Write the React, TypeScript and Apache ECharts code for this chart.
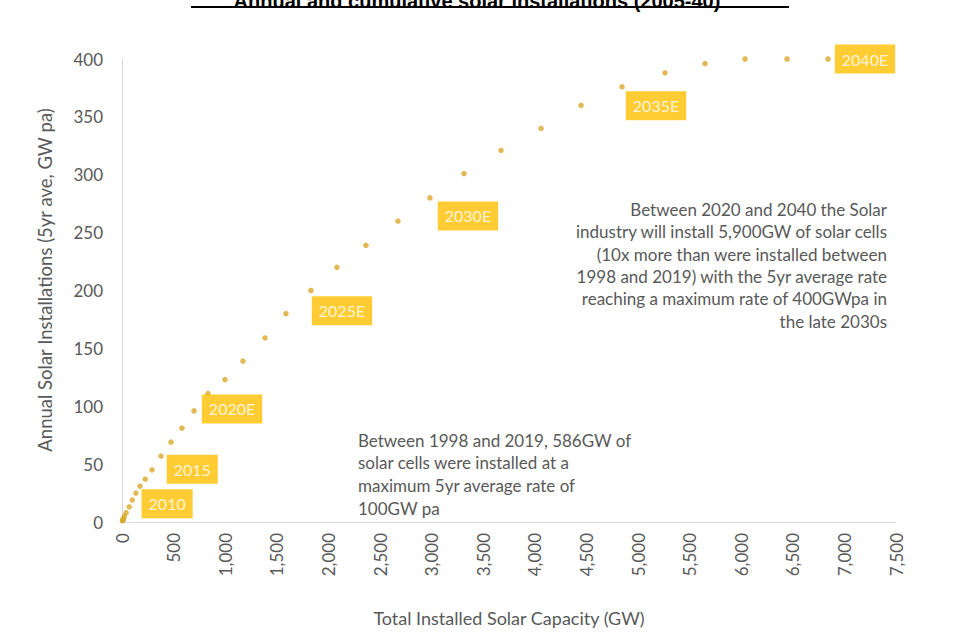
import React, { useEffect, useRef } from "react";
import * as echarts from "echarts";

// ---- data ----
const years = [
  2005, 2006, 2007, 2008, 2009, 2010, 2011, 2012, 2013, 2014, 2015, 2016,
  2017, 2018, 2019, 2020, 2021, 2022, 2023, 2024, 2025, 2026, 2027, 2028,
  2029, 2030, 2031, 2032, 2033, 2034, 2035, 2036, 2037, 2038, 2039, 2040,
];
// Total installed solar capacity (GW)
const capacityGW = [
  5, 7, 9, 15, 23, 40, 70, 100, 135, 175, 225, 291, 378, 475, 581, 698, 833,
  998, 1172, 1386, 1589, 1831, 2083, 2364, 2674, 2984, 3314, 3672, 4060, 4448,
  4845, 5262, 5649, 6037, 6444, 6841,
];
// Annual solar installations (5yr ave, GW pa)
const annualGWpa = [
  1, 1.5, 2, 3, 5, 8, 13, 19, 25, 31, 37, 45, 57, 69, 81, 96, 111, 123, 139,
  159, 180, 200, 220, 239, 260, 280, 301, 321, 340, 360, 376, 388, 396, 400,
  400, 400,
];
const calloutYears = [2010, 2015, 2020, 2025, 2030, 2035, 2040];
const calloutTexts = ["2010", "2015", "2020E", "2025E", "2030E", "2035E", "2040E"];

const titleText = "Annual and cumulative solar installations (2005-40)";
const xAxisTitle = "Total Installed Solar Capacity (GW)";
const yAxisTitle = "Annual Solar Installations (5yr ave, GW pa)";
const noteFuture = [
  "Between 2020 and 2040 the Solar",
  "industry will install 5,900GW of solar cells",
  "(10x more than were installed between",
  "1998 and 2019) with the 5yr average rate",
  "reaching a maximum rate of 400GWpa in",
  "the late 2030s",
];
const notePast = [
  "Between 1998 and 2019, 586GW of",
  "solar cells were installed at a",
  "maximum 5yr average rate of",
  "100GW pa",
];

// ---- styling ----
const GOLD = "#FFC000";
const DOT = "#D9A82A";
const GREY = "#595959";
const FONT = "Lato, 'Open Sans', sans-serif";
const calloutOffsets: Record<number, [number, number]> = {
  2010: [41, -9],
  2015: [47, -10],
  2020: [38, -2],
  2025: [56, -3],
  2030: [38, 18],
  2035: [34, 19],
  2040: [37, 0],
};

export default function App() {
  const ref = useRef<HTMLDivElement>(null);

  useEffect(() => {
    if (!ref.current) return;
    const chart = echarts.init(ref.current, undefined, { renderer: "svg" });

    const data = years.map((yr, i) => {
      const k = calloutYears.indexOf(yr);
      const item: any = { value: [capacityGW[i], annualGWpa[i]] };
      if (k >= 0) {
        item.label = {
          show: true,
          formatter: calloutTexts[k],
          position: "inside",
          offset: calloutOffsets[yr],
          align: "center",
          verticalAlign: "middle",
          color: "#FFFFFF",
          backgroundColor: GOLD,
          fontFamily: FONT,
          fontSize: 16,
          lineHeight: 17,
          padding: [6, 7],
        };
      }
      return item;
    });

    chart.setOption({
      animation: false,
      backgroundColor: "#FFFFFF",
      grid: { left: 122, width: 774, top: 59, height: 475.6, containLabel: false },
      xAxis: {
        type: "value",
        min: 0,
        max: 7500,
        interval: 500,
        name: xAxisTitle,
        nameLocation: "middle",
        nameGap: 87,
        nameTextStyle: { color: GREY, fontSize: 18, fontFamily: FONT },
        axisLine: { show: true, lineStyle: { color: "#D9D9D9", width: 1 } },
        axisTick: { show: false },
        splitLine: { show: false },
        axisLabel: {
          rotate: 90,
          margin: 11,
          color: GREY,
          fontSize: 17,
          fontFamily: FONT,
          formatter: (v: number) => v.toLocaleString("en-US"),
        },
      },
      yAxis: {
        type: "value",
        min: 0,
        max: 400,
        interval: 50,
        axisLine: { show: true, lineStyle: { color: "#D9D9D9", width: 1 } },
        axisTick: { show: false },
        splitLine: { show: false },
        axisLabel: { margin: 19, color: GREY, fontSize: 17, fontFamily: FONT },
      },
      series: [
        {
          type: "scatter",
          symbol: "circle",
          symbolSize: 5.5,
          itemStyle: { color: DOT },
          data,
          z: 3,
        },
      ],
      graphic: [
        {
          type: "text",
          left: "center",
          top: -9,
          style: {
            text: titleText,
            fill: "#000000",
            font: "bold 20px 'Liberation Sans', Arial, sans-serif",
          },
        },
        {
          type: "line",
          shape: { x1: 191, y1: 7, x2: 789, y2: 7 },
          style: { stroke: "#000000", lineWidth: 2 },
        },
        {
          type: "text",
          x: 45,
          y: 280,
          rotation: Math.PI / 2,
          style: {
            text: yAxisTitle,
            fill: GREY,
            fontFamily: FONT,
            fontSize: 18.5,
            align: "center",
            verticalAlign: "middle",
          },
        },
        {
          type: "text",
          x: 887,
          y: 198,
          style: {
            text: noteFuture.join("\n"),
            fill: GREY,
            fontFamily: FONT,
            fontSize: 17,
            lineHeight: 22.4,
            align: "right",
          },
        },
        {
          type: "text",
          x: 358,
          y: 429,
          style: {
            text: notePast.join("\n"),
            fill: GREY,
            fontFamily: FONT,
            fontSize: 17,
            lineHeight: 22.6,
            align: "left",
          },
        },
      ],
    });

    return () => chart.dispose();
  }, []);

  return (
    <div
      ref={ref}
      style={{ position: "absolute", left: 0, top: 0, width: 954, height: 632 }}
    />
  );
}
